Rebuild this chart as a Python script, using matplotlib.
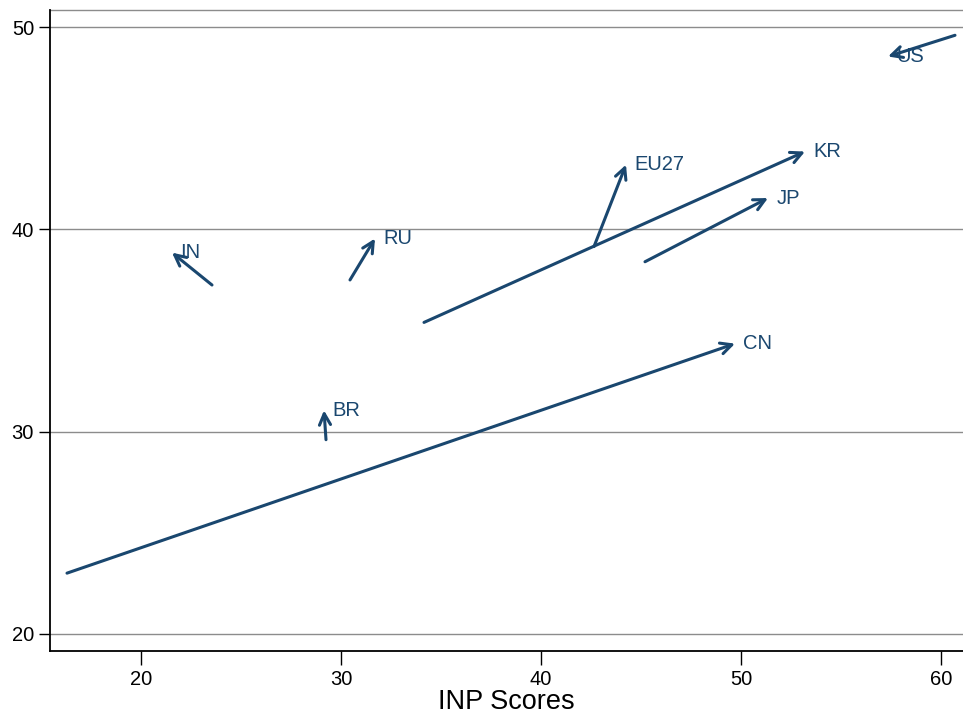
import matplotlib
matplotlib.use("Agg")
import matplotlib.pyplot as plt

plt.rcParams["font.family"] = ["Liberation Sans", "DejaVu Sans"]

# arrow start / end per country (INP score, y value)
countries = ["CN", "BR", "IN", "RU", "EU27", "KR", "JP", "US"]
x_start = [16.3, 29.25, 23.55, 30.45, 42.65, 34.15, 45.2, 60.7]
y_start = [23.0, 29.6, 37.25, 37.5, 39.15, 35.4, 38.4, 49.6]
x_end = [49.7, 29.15, 21.55, 31.7, 44.25, 53.2, 51.35, 57.35]
y_end = [34.35, 31.05, 38.85, 39.55, 43.2, 43.85, 41.55, 48.55]

xticks = [20, 30, 40, 50, 60]
yticks = [20, 30, 40, 50]

navy = "#1a476f"

fig = plt.figure(figsize=(9.63, 7.16), dpi=100)
ax = fig.add_axes([50 / 963, 1 - 651 / 716, 1 - 50 / 963, (651 - 10) / 716])

ax.set_xlim(15.45, 61.1)
ax.set_ylim(19.15, 50.85)

for yv in yticks:
    ax.axhline(yv, color="#8c8c8c", lw=1.0, zorder=1)

for name, x0, y0, x1, y1 in zip(countries, x_start, y_start, x_end, y_end):
    ax.annotate("", xy=(x1, y1), xytext=(x0, y0),
                arrowprops=dict(arrowstyle="->", color=navy, lw=2.2,
                                mutation_scale=20, shrinkA=0, shrinkB=0),
                zorder=3)
    ax.annotate(name, xy=(x1, y1), xytext=(6, 0), textcoords="offset points",
                color=navy, fontsize=14.5, va="center", ha="left", zorder=4)

ax.set_xticks(xticks)
ax.set_yticks(yticks)
ax.tick_params(axis="both", labelsize=14.5, length=8, width=1.0, color="black")
ax.tick_params(axis="x", length=10)

for side in ["top", "right"]:
    ax.spines[side].set_visible(False)
for side in ["left", "bottom"]:
    ax.spines[side].set_linewidth(1.3)
ax.axhline(50.85, color="#8c8c8c", lw=1.0, clip_on=False)

ax.set_xlabel("INP Scores", fontsize=19.5, labelpad=0)

fig.savefig("out.png", dpi=100)
